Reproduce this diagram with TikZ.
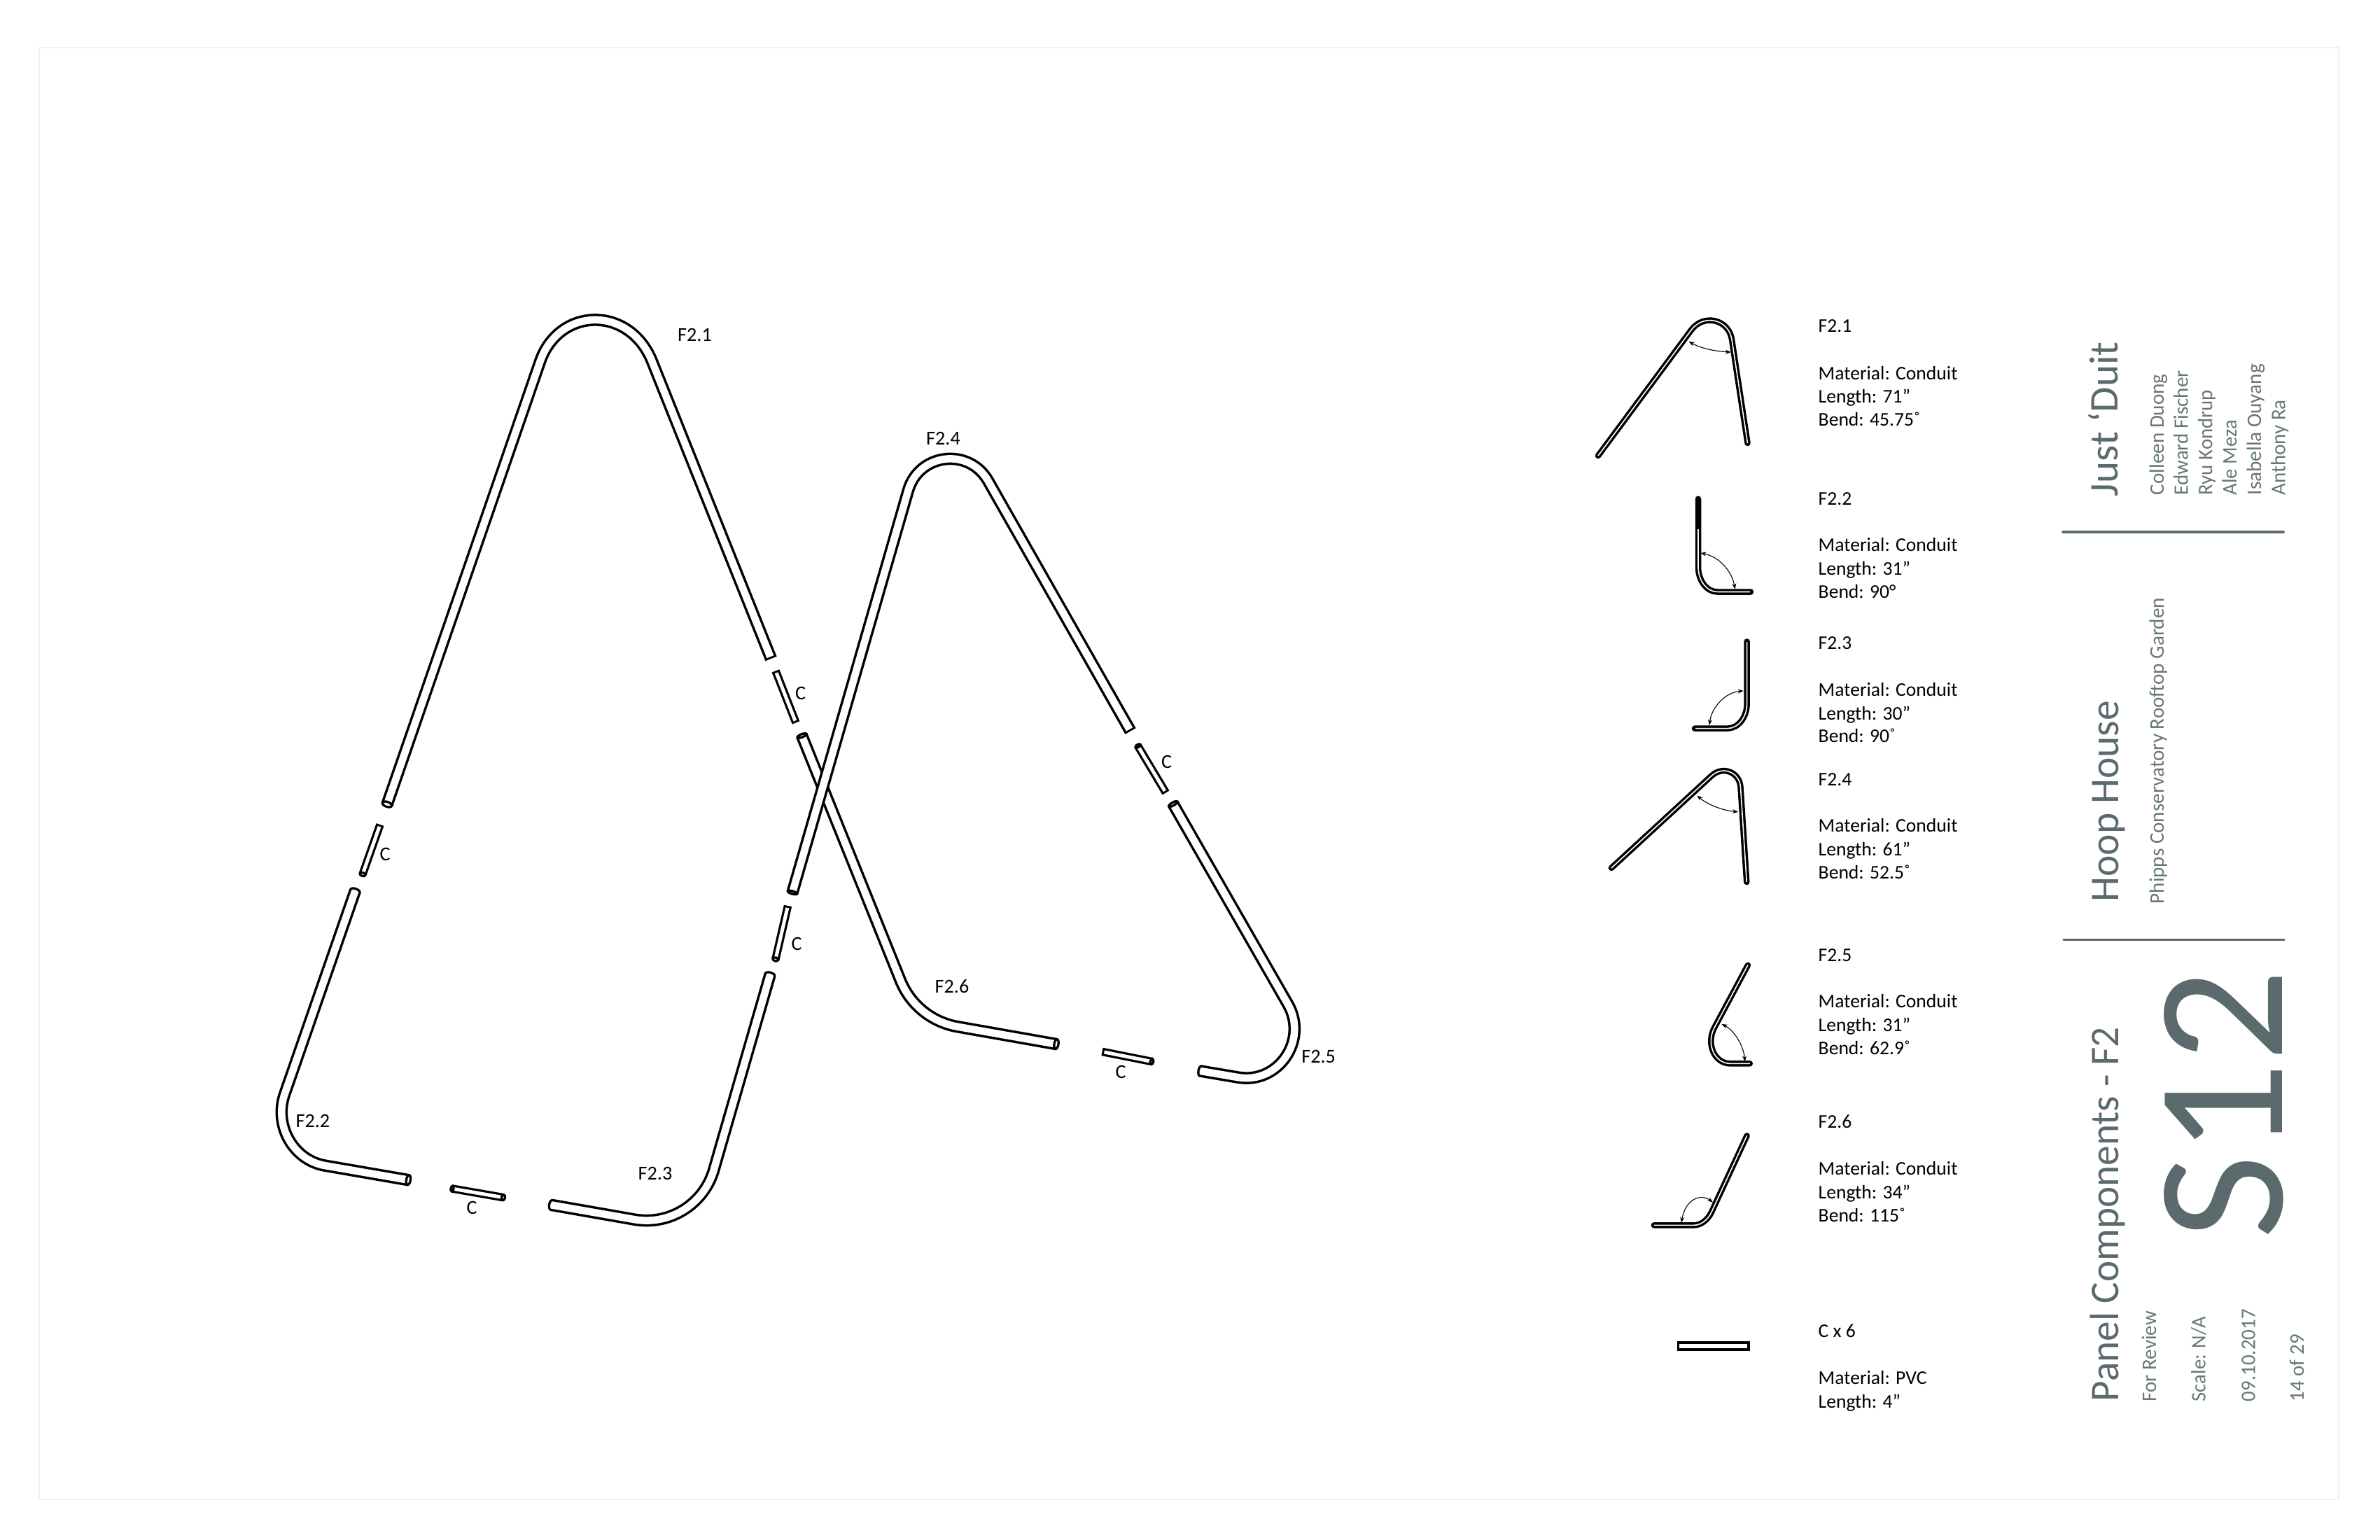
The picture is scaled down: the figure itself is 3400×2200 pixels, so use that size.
\documentclass[tikz,border=0pt]{standalone}
\usepackage{fontspec}
\usepackage{graphicx}
\setmainfont{Carlito}
\usetikzlibrary{calc,arrows.meta}
\definecolor{slate}{HTML}{5A6A6D}
\definecolor{slatel}{HTML}{677679}
\definecolor{frame}{HTML}{EFEFEF}
\tikzset{
  tubeo/.style={line width=0.175cm,black,line cap=butt,line join=round},
  tubei/.style={line width=0.105cm,white,line cap=butt,line join=round},
  ctubeo/.style={line width=0.115cm,black,line cap=butt},
  ctubei/.style={line width=0.05cm,white,line cap=butt,shorten <=0.03cm,shorten >=0.03cm},
  sa/.style={shorten <=0.03cm},
  sb/.style={shorten >=0.03cm},
  endline/.style={line width=0.033cm,black,fill=white},
  smallo/.style={line width=0.085cm,black,line cap=round,line join=round},
  smalli/.style={line width=0.016cm,white,line cap=butt},
  dim/.style={line width=0.011cm,black,{Stealth[length=0.08cm,width=0.06cm]}-{Stealth[length=0.08cm,width=0.06cm]}},
  lbl/.style={inner sep=0pt,font=\fontsize{8}{9.6}\selectfont,black},
  note/.style={inner sep=0pt,font=\fontsize{7.85}{9.6}\selectfont,black,anchor=base west},
  sidetxt/.style={inner sep=0pt,text=slate,rotate=90,anchor=base west},
  bigt/.style={sidetxt,font=\fontsize{16.6}{20}\selectfont},
  smallt/.style={sidetxt,text=slatel,font=\fontsize{8.4}{10}\selectfont},
  rulel/.style={line width=0.036cm,slate,line cap=round}
}
\newcommand\tube[3][]{\draw[tubeo] #2; #3 \draw[tubei,#1] #2;}
\newcommand\ctube[4]{\draw[ctubeo] (#1,#2) -- (#3,#4); \draw[ctubei] (#1,#2) -- (#3,#4);}
% open or rounded tube end: x, y, visual angle of long axis, half width, half depth (cm)
\newcommand\tend[5]{\draw[endline,rotate around={#3:(#1,#2)}] (#1,#2) ellipse [x radius=#4cm,y radius=#5cm];}
\newcommand\smallpart[2]{\draw[smallo] #1; \draw[smalli] #2;}
\begin{document}
\begin{tikzpicture}[x=0.01cm,y=-0.01cm]
\useasboundingbox (0,0) rectangle (3400,2200);
\fill[white] (0,0) rectangle (3400,2200);
\draw[frame,line width=0.02cm] (56,68) rectangle (3341,2142);

% --- first frame ---
\tube[sb]{(553,1149) -- (771,518) .. controls ($(771,518)!.37!(842.8,301.9)$) and ($(931,515)!.37!(842.8,301.9)$) .. (931,515) -- (1101.5,941)}{}
\tend{553}{1149}{-19}{.07}{.035}
\ctube{543}{1178}{518}{1249}
\tend{518}{1249}{-19}{.04}{.025}
\ctube{1108}{958.4}{1137}{1032.4}
\tube{(507.3,1273) -- (405.7,1565.8) .. controls ($(405.7,1565.8)!.524!(380,1650.5)$) and ($(464.2,1665.1)!.524!(380,1650.5)$) .. (464.2,1665.1) -- (583.4,1685.7)}{\tend{507.3}{1273}{-19}{.07}{.035}}
\tend{583.4}{1685.7}{80}{.07}{.03}
\ctube{646}{1698}{719}{1710.7}
\tend{719}{1710.7}{80}{.04}{.025}
\tend{646}{1698}{80}{.04}{.02}
\tube{(788,1721.4) -- (906.3,1742.1) .. controls ($(906.3,1742.1)!.57!(994,1757.4)$) and ($(1019.5,1672.1)!.57!(994,1757.4)$) .. (1019.5,1672.1) -- (1100,1392.7)}{\tend{788}{1721.4}{80}{.07}{.035}\tend{1100}{1392.7}{-16}{.07}{.035}}

% --- second frame: F2.6 lies under F2.4 ---
\tube{(1145.5,1051) -- (1286.3,1400.6) .. controls ($(1286.3,1400.6)!.623!(1308.7,1456.3)$) and ($(1367.8,1466.7)!.623!(1308.7,1456.3)$) .. (1367.8,1466.7) -- (1509,1491.6)}{}
\tend{1145.5}{1051}{22}{.07}{.022}
\tend{1509}{1491.6}{80}{.07}{.03}
\tube[sb]{(1132,1275) -- (1297.4,700.6) .. controls ($(1297.4,700.6)!.374!(1338.4,558.4)$) and ($(1411.6,687)!.374!(1338.4,558.4)$) .. (1411.6,687) -- (1615,1044.5)}{}
\tend{1132}{1275}{-16}{.07}{.02}
\ctube{1125.5}{1294}{1107.9}{1370.4}
\tend{1107.9}{1370.4}{-13}{.04}{.025}
\ctube{1625.5}{1065.6}{1665.5}{1132.5}
\tend{1625.5}{1065.6}{30}{.04}{.02}
\tube{(1675.8,1148.5) -- (1840,1434.9) .. controls ($(1840,1434.9)!.399!(1912.7,1563.5)$) and ($(1768.7,1539.1)!.399!(1912.7,1563.5)$) .. (1768.7,1539.1) -- (1715,1530)}{\tend{1715}{1530}{80}{.07}{.03}}
\tend{1675.8}{1148.5}{30}{.07}{.022}
\ctube{1574.5}{1502.4}{1645.5}{1516.5}
\tend{1645.5}{1516.5}{80}{.04}{.022}

% --- labels on the frames ---
\node[lbl,anchor=base] (l21) at (992.5,487) {F2.1};
\node[lbl,anchor=base] (l22) at (447,1610) {F2.2};
\node[lbl,anchor=base] (l23) at (936,1685) {F2.3};
\node[lbl,anchor=base] (l24) at (1347.5,635.5) {F2.4};
\node[lbl,anchor=base] (l25) at (1883.6,1518) {F2.5};
\node[lbl,anchor=base] (l26) at (1360,1418) {F2.6};
\node[lbl,anchor=base] (c1) at (550,1229) {C};
\node[lbl,anchor=base] (c2) at (674,1734) {C};
\node[lbl,anchor=base] (c3) at (1143.6,999.5) {C};
\node[lbl,anchor=base] (c4) at (1138,1357.5) {C};
\node[lbl,anchor=base] (c5) at (1666.7,1097.5) {C};
\node[lbl,anchor=base] (c6) at (1601,1540) {C};

% --- part drawings ---
\smallpart{(2283,651) -- (2416,471.5) .. controls ($(2416,471.5)!.38!(2462.5,408.8)$) and ($(2474,485)!.38!(2462.5,408.8)$) .. (2474,485) -- (2496.5,633)}{(2283,651) -- (2416,471.5) .. controls ($(2416,471.5)!.38!(2462.5,408.8)$) and ($(2474,485)!.38!(2462.5,408.8)$) .. (2474,485) -- (2496.5,633)}
\draw[dim] (2412.6,487.8) .. controls (2428,497) and (2450,502) .. (2472.8,503);

\smallpart{(2426,712.7) -- (2426,810) .. controls ($(2426,810)!.55!(2426,845.5)$) and ($(2453.3,845.5)!.55!(2426,845.5)$) .. (2453.3,845.5) -- (2501,845.5)}{(2426,756) -- (2426,810) .. controls ($(2426,810)!.55!(2426,845.5)$) and ($(2453.3,845.5)!.55!(2426,845.5)$) .. (2453.3,845.5) -- (2500,845.5)}
\draw[dim] (2429.3,790) .. controls (2455,795) and (2474,815) .. (2478.6,841.7);

\smallpart{(2495.6,916.5) -- (2495.6,1005.4) .. controls ($(2495.6,1005.4)!.55!(2495.6,1040.6)$) and ($(2467.8,1040.6)!.55!(2495.6,1040.6)$) .. (2467.8,1040.6) -- (2421,1040.6)}{(2495.6,917) -- (2495.6,1005.4) .. controls ($(2495.6,1005.4)!.55!(2495.6,1040.6)$) and ($(2467.8,1040.6)!.55!(2495.6,1040.6)$) .. (2467.8,1040.6) -- (2422,1040.6)}
\draw[dim] (2490.7,987) .. controls (2465,989) and (2445,1010) .. (2442,1036);

\smallpart{(2301.9,1240) -- (2445,1108.3) .. controls ($(2445,1108.3)!.42!(2483.3,1073)$) and ($(2486.5,1124.6)!.42!(2483.3,1073)$) .. (2486.5,1124.6) -- (2495.2,1260)}{(2301.9,1240) -- (2445,1108.3) .. controls ($(2445,1108.3)!.42!(2483.3,1073)$) and ($(2486.5,1124.6)!.42!(2483.3,1073)$) .. (2486.5,1124.6) -- (2495.2,1260)}
\draw[dim] (2424.3,1136.5) .. controls (2440,1150) and (2462,1158) .. (2483.2,1159.8);

\smallpart{(2496.9,1378.8) -- (2449.2,1467.9) .. controls ($(2449.2,1467.9)!.453!(2421.6,1519.4)$) and ($(2472,1519.4)!.453!(2421.6,1519.4)$) .. (2472,1519.4) -- (2499.8,1519.4)}{(2496.9,1378.8) -- (2449.2,1467.9) .. controls ($(2449.2,1467.9)!.453!(2421.6,1519.4)$) and ($(2472,1519.4)!.453!(2421.6,1519.4)$) .. (2472,1519.4) -- (2499.8,1519.4)}
\draw[dim] (2459.5,1463) .. controls (2478,1472) and (2491,1495) .. (2492.7,1516.4);

\smallpart{(2495.6,1622.4) -- (2445,1731.5) .. controls ($(2445,1731.5)!.6!(2436.3,1750.3)$) and ($(2420,1750.3)!.6!(2436.3,1750.3)$) .. (2420,1750.3) -- (2362.9,1750.3)}{(2495.6,1622.4) -- (2445,1731.5) .. controls ($(2445,1731.5)!.6!(2436.3,1750.3)$) and ($(2420,1750.3)!.6!(2436.3,1750.3)$) .. (2420,1750.3) -- (2362.9,1750.3)}
\draw[dim] (2447,1717.6) .. controls (2430,1705) and (2408,1712) .. (2401.9,1746.7);

\draw[line width=0.035cm,black] (2397.5,1918) rectangle (2498,1928);

% --- part notes ---
\node[note] (a1) at (2597,474) {F2.1};
\node[note] (a2) at (2597,542) {Material: Conduit};
\node[note] (a3) at (2597,575) {Length: 71”};
\node[note] (a4) at (2597,608) {Bend: 45.75˚};
\node[note] (b1) at (2597,721) {F2.2};
\node[note] (b2) at (2597,787) {Material: Conduit};
\node[note] (b3) at (2597,821) {Length: 31”};
\node[note] (b4) at (2597,854) {Bend: 90°};
\node[note] (d1) at (2597,927) {F2.3};
\node[note] (d2) at (2597,994) {Material: Conduit};
\node[note] (d3) at (2597,1028) {Length: 30”};
\node[note] (d4) at (2597,1060.5) {Bend: 90˚};
\node[note] (e1) at (2597,1122) {F2.4};
\node[note] (e2) at (2597,1188) {Material: Conduit};
\node[note] (e3) at (2597,1222) {Length: 61”};
\node[note] (e4) at (2597,1255.5) {Bend: 52.5˚};
\node[note] (f1) at (2597,1373.5) {F2.5};
\node[note] (f2) at (2597,1439) {Material: Conduit};
\node[note] (f3) at (2597,1473.5) {Length: 31”};
\node[note] (f4) at (2597,1506) {Bend: 62.9˚};
\node[note] (g1) at (2597,1611.5) {F2.6};
\node[note] (g2) at (2597,1678.5) {Material: Conduit};
\node[note] (g3) at (2597,1712) {Length: 34”};
\node[note] (g4) at (2597,1745) {Bend: 115˚};
\node[note] (h1) at (2597,1910) {C x 6};
\node[note] (h2) at (2597,1977) {Material: PVC};
\node[note] (h3) at (2597,2011) {Length: 4”};

% --- title strip ---
\node[bigt] (t1) at (3025,710) {\resizebox{2.21cm}{\height}{Just ‘Duit}};
\node[smallt] (n1) at (3091,708) {\resizebox{1.73cm}{\height}{Colleen Duong}};
\node[smallt] (n2) at (3125.7,708) {\resizebox{1.78cm}{\height}{Edward Fischer}};
\node[smallt] (n3) at (3160.4,708) {\resizebox{1.50cm}{\height}{Ryu Kondrup}};
\node[smallt] (n4) at (3195,708) {\resizebox{1.07cm}{\height}{Ale Meza}};
\node[smallt] (n5) at (3230,708) {\resizebox{1.87cm}{\height}{Isabella Ouyang}};
\node[smallt] (n6) at (3264.6,708) {\resizebox{1.36cm}{\height}{Anthony Ra}};
\draw[rulel] (2947,760) -- (3262,760);
\node[bigt] (t2) at (3026.7,1289) {\resizebox{2.87cm}{\height}{Hoop House}};
\node[smallt] (t3) at (3091,1292) {\resizebox{4.37cm}{\height}{Phipps Conservatory Rooftop Garden}};
\draw[rulel] (2948,1342.5) -- (3263,1342.5);
\node[bigt] (t4) at (3026.7,2003) {\resizebox{5.35cm}{\height}{Panel Components - F2}};
\node[smallt] (s1) at (3080,2003) {\resizebox{1.29cm}{\height}{For Review}};
\node[smallt] (s2) at (3150.7,2003) {\resizebox{1.21cm}{\height}{Scale: N/A}};
\node[smallt] (s3) at (3221.7,2003) {\resizebox{1.32cm}{\height}{09.10.2017}};
\node[smallt] (s4) at (3291,2003) {\resizebox{0.96cm}{\height}{14 of 29}};
\node[sidetxt,font=\fontsize{74}{80}\selectfont] (big) at (3260,1771) {\resizebox{3.85cm}{\height}{S12}};
\end{tikzpicture}
\end{document}
